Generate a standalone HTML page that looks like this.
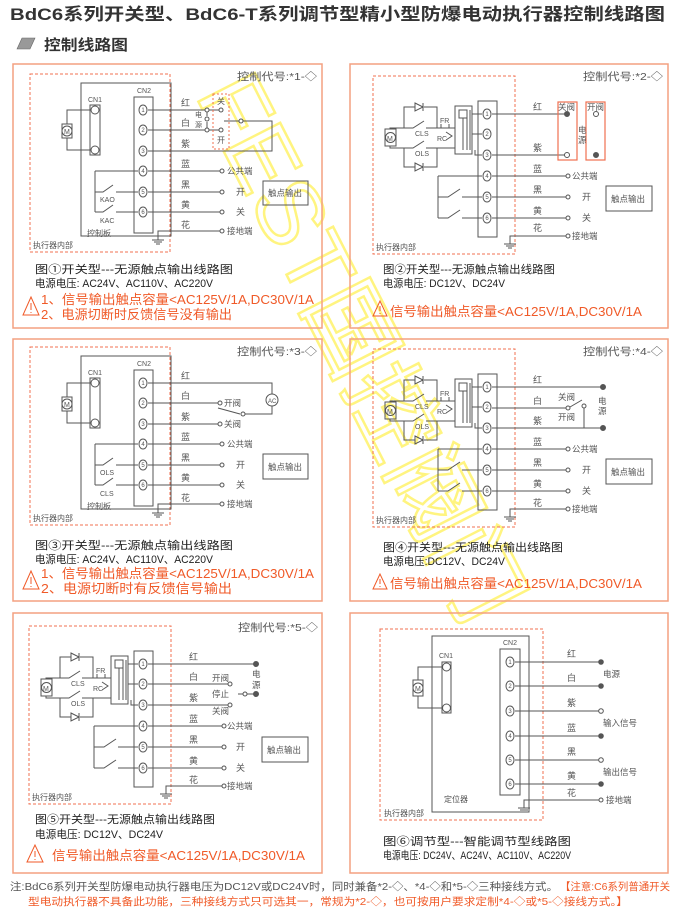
<!DOCTYPE html>
<html><head><meta charset="utf-8"><style>
html,body{margin:0;padding:0;background:#fff;}
svg{display:block;}
text{font-family:"Liberation Sans","Noto Sans CJK SC",sans-serif;}
</style></head><body>
<svg width="680" height="922" viewBox="0 0 680 922" xmlns="http://www.w3.org/2000/svg">
<defs>
<g id="gA" fill="none" stroke="#555" stroke-width="1">
<rect x="30" y="74" width="140" height="178" stroke="#f07050" stroke-dasharray="3 2"/>
<rect x="81" y="83" width="90" height="153"/>
<rect x="90" y="105" width="10" height="50"/>
<circle cx="95" cy="110" r="4"/><circle cx="95" cy="150" r="4"/>
<path d="M90 110H67V124M90 150H67V138"/>
<rect x="62" y="124" width="10" height="14"/><circle cx="67" cy="131" r="5"/>
<rect x="134" y="97" width="19" height="136"/>
<ellipse cx="143" cy="110" rx="4" ry="5"/><ellipse cx="143" cy="130" rx="4" ry="5"/><ellipse cx="143" cy="151" rx="4" ry="5"/><ellipse cx="143" cy="171" rx="4" ry="5"/><ellipse cx="143" cy="192" rx="4" ry="5"/><ellipse cx="143" cy="212" rx="4" ry="5"/>
<path d="M148 171H220M95 171V212M95 171H138M95 192H103L113 185M116 192H138M95 212H103L113 205M116 212H138M148 192H220M148 212H220M220 231H158V240M152 240H164M154 242H162M156 244H160"/>
<g fill="#fff"><circle cx="222" cy="171" r="2"/><circle cx="222" cy="192" r="2"/><circle cx="222" cy="212" r="2"/><circle cx="222" cy="231" r="2"/></g>
</g>
<g id="gB" fill="none" stroke="#555" stroke-width="1">
<rect x="373" y="76" width="142" height="178" stroke="#f07050" stroke-dasharray="3 2"/>
<rect x="478" y="101" width="19" height="136"/>
<ellipse cx="487" cy="114" rx="4" ry="5"/><ellipse cx="487" cy="134" rx="4" ry="5"/><ellipse cx="487" cy="155" rx="4" ry="5"/><ellipse cx="487" cy="176" rx="4" ry="5"/><ellipse cx="487" cy="197" rx="4" ry="5"/><ellipse cx="487" cy="218" rx="4" ry="5"/>
<rect x="385" y="129" width="11" height="17"/><circle cx="390.5" cy="137.5" r="5"/>
<path d="M404 128V107H415M424 107H437V128M404 148V167H415M424 167H437V148"/>
<path d="M415 103L423 107L415 111ZM423 103V111M415 163L423 167L415 171ZM423 163V171"/>
<path d="M390 129V128H413L424 121M426 128H455M390 146V148H413L424 141M426 148H455"/>
<path d="M446 132L452 136L446 140M441 128V124M449 124V128"/>
<rect x="455" y="106" width="17" height="48"/><rect x="459" y="110" width="8" height="8"/>
<path d="M463 118V150M467 118V150M470 110V150M472 114H482M472 134H482M475 150V155H482"/>
<path d="M438 176H482M438 176V218M438 197H448L460 189M462 197H482M438 218H448L460 210M462 218H482"/>
<path d="M492 176H566M492 197H566M492 218H566M566 236H510V244M504 244H516M506 246H514M508 248H512"/>
<g fill="#fff"><circle cx="568" cy="176" r="2"/><circle cx="568" cy="197" r="2"/><circle cx="568" cy="218" r="2"/><circle cx="568" cy="236" r="2"/></g>
</g>
</defs>

<!-- watermark -->
<text x="0" y="0" transform="translate(195,95) rotate(63)" font-size="92" fill="none" stroke="#fff36a" stroke-width="2.5" opacity="0.85" textLength="600" lengthAdjust="spacingAndGlyphs">FEST国控阀门</text>

<!-- header -->
<text x="10" y="20" font-size="17" font-weight="bold" fill="#333" textLength="655" lengthAdjust="spacingAndGlyphs">BdC6系列开关型、BdC6-T系列调节型精小型防爆电动执行器控制线路图</text>
<path d="M17 49L22 38H35L30 49Z" fill="#999" stroke="#666" stroke-width=".6"/>
<text x="44" y="50" font-size="15" font-weight="bold" fill="#333" textLength="84" lengthAdjust="spacingAndGlyphs">控制线路图</text>

<!-- panel borders -->
<g fill="none" stroke="#f4a080" stroke-width="1.5">
<rect x="13" y="64" width="309" height="264"/>
<rect x="350" y="64" width="318" height="264"/>
<rect x="13" y="339" width="309" height="262"/>
<rect x="350" y="339" width="318" height="262"/>
<rect x="13" y="613" width="309" height="260"/>
<rect x="350" y="613" width="318" height="260"/>
</g>

<g font-size="9" fill="#555">
<!-- PANEL 1 -->
<use href="#gA"/>
<text x="237" y="80" font-size="10.5" textLength="80" lengthAdjust="spacingAndGlyphs">控制代号:*1-◇</text>
<text x="88" y="102" font-size="7">CN1</text><text x="137" y="93" font-size="7">CN2</text>
<text x="64" y="134" font-size="7">M</text>
<g font-size="6" text-anchor="middle"><text x="143" y="112">1</text><text x="143" y="132">2</text><text x="143" y="153">3</text><text x="143" y="173">4</text><text x="143" y="194">5</text><text x="143" y="214">6</text></g>
<text x="100" y="202" font-size="7">KAO</text><text x="100" y="223" font-size="7">KAC</text>
<text x="87" y="236" font-size="8">控制板</text><text x="33" y="248" font-size="8">执行器内部</text>
<text x="181" y="106">红</text><text x="181" y="126">白</text><text x="181" y="147">紫</text><text x="181" y="167">蓝</text><text x="181" y="188">黑</text><text x="181" y="208">黄</text><text x="181" y="228">花</text>
<text x="227" y="174" font-size="8.5">公共端</text><text x="236" y="195">开</text><text x="236" y="215">关</text><text x="227" y="234" font-size="8.5">接地端</text>
<rect x="263" y="181" width="45" height="24" fill="none" stroke="#555"/><text x="268" y="196" font-size="8.5">触点输出</text>
<g fill="none" stroke="#555"><path d="M148 110H205M148 130H205M207 112V116M207 122V128M148 151H272V121H243M224 121H239M209 110H219M209 130H219"/>
<circle cx="207" cy="110" r="2" fill="#fff"/><circle cx="207" cy="119" r="2" fill="#fff"/><circle cx="207" cy="130" r="2" fill="#fff"/><circle cx="221" cy="110" r="2" fill="#fff"/><circle cx="221" cy="130" r="2" fill="#fff"/><circle cx="241" cy="121" r="2" fill="#fff"/>
<rect x="213" y="94" width="16" height="55" stroke="#f07050" stroke-dasharray="2 2"/></g>
<text x="195" y="117" font-size="7">电</text><text x="195" y="127" font-size="7">源</text>
<text x="217" y="104" font-size="8">关</text><text x="217" y="143" font-size="8">开</text>

<!-- PANEL 3 -->
<use href="#gA" y="273"/>
<text x="237" y="355" font-size="10.5" textLength="80" lengthAdjust="spacingAndGlyphs">控制代号:*3-◇</text>
<text x="88" y="375" font-size="7">CN1</text><text x="137" y="366" font-size="7">CN2</text>
<text x="64" y="407" font-size="7">M</text>
<g font-size="6" text-anchor="middle"><text x="143" y="385">1</text><text x="143" y="405">2</text><text x="143" y="426">3</text><text x="143" y="446">4</text><text x="143" y="467">5</text><text x="143" y="487">6</text></g>
<text x="100" y="475" font-size="7">OLS</text><text x="100" y="496" font-size="7">CLS</text>
<text x="87" y="509" font-size="8">控制板</text><text x="33" y="521" font-size="8">执行器内部</text>
<text x="181" y="379">红</text><text x="181" y="399">白</text><text x="181" y="420">紫</text><text x="181" y="440">蓝</text><text x="181" y="461">黑</text><text x="181" y="481">黄</text><text x="181" y="501">花</text>
<text x="227" y="447" font-size="8.5">公共端</text><text x="236" y="468">开</text><text x="236" y="488">关</text><text x="227" y="507" font-size="8.5">接地端</text>
<rect x="263" y="454" width="45" height="25" fill="none" stroke="#555"/><text x="268" y="470" font-size="8.5">触点输出</text>
<g fill="none" stroke="#555"><path d="M148 383H272V394M272 406V414H245M148 403H218M148 424H218M218 408L240 414"/>
<circle cx="272" cy="400" r="6" fill="#fff"/><circle cx="220" cy="403" r="2" fill="#fff"/><circle cx="220" cy="424" r="2" fill="#fff"/><circle cx="243" cy="414" r="2" fill="#fff"/></g>
<text x="268" y="403" font-size="6">AC</text>
<text x="224" y="406" font-size="8.5">开阀</text><text x="224" y="427" font-size="8.5">关阀</text>

<!-- PANEL 2 -->
<use href="#gB"/>
<text x="583" y="80" font-size="10.5" textLength="80" lengthAdjust="spacingAndGlyphs">控制代号:*2-◇</text>
<text x="387" y="141" font-size="7">M</text>
<g font-size="6" text-anchor="middle"><text x="487" y="116">1</text><text x="487" y="136">2</text><text x="487" y="157">3</text><text x="487" y="178">4</text><text x="487" y="199">5</text><text x="487" y="220">6</text></g>
<text x="415" y="136" font-size="7">CLS</text><text x="415" y="156" font-size="7">OLS</text><text x="440" y="123" font-size="7">FR</text><text x="437" y="141" font-size="7">RC</text>
<text x="376" y="250" font-size="8">执行器内部</text>
<text x="533" y="110">红</text><text x="533" y="151">紫</text><text x="533" y="172">蓝</text><text x="533" y="193">黑</text><text x="533" y="214">黄</text><text x="533" y="231">花</text>
<text x="572" y="179" font-size="8.5">公共端</text><text x="582" y="200">开</text><text x="582" y="221">关</text><text x="572" y="239" font-size="8.5">接地端</text>
<rect x="606" y="186" width="46" height="25" fill="none" stroke="#555"/><text x="611" y="202" font-size="8.5">触点输出</text>
<g fill="none"><path d="M492 114H565M492 155H565" stroke="#555"/>
<rect x="558" y="102" width="19" height="58" stroke="#f07050" stroke-width="1.2"/><rect x="586" y="102" width="19" height="58" stroke="#f07050" stroke-width="1.2"/>
<circle cx="567" cy="114" r="2.5" stroke="#555" fill="#555"/><circle cx="567" cy="155" r="2.5" stroke="#555"/><circle cx="596" cy="114" r="2.5" stroke="#555"/><circle cx="596" cy="155" r="2.5" stroke="#555" fill="#555"/></g>
<text x="558" y="110" font-size="8.5">关阀</text><text x="587" y="110" font-size="8.5">开阀</text>
<text x="578" y="133" font-size="8.5">电</text><text x="578" y="143" font-size="8.5">源</text>

<!-- PANEL 4 -->
<use href="#gB" y="273"/>
<text x="583" y="355" font-size="10.5" textLength="80" lengthAdjust="spacingAndGlyphs">控制代号:*4-◇</text>
<text x="387" y="414" font-size="7">M</text>
<g font-size="6" text-anchor="middle"><text x="487" y="389">1</text><text x="487" y="409">2</text><text x="487" y="430">3</text><text x="487" y="451">4</text><text x="487" y="472">5</text><text x="487" y="493">6</text></g>
<text x="415" y="409" font-size="7">CLS</text><text x="415" y="429" font-size="7">OLS</text><text x="440" y="396" font-size="7">FR</text><text x="437" y="414" font-size="7">RC</text>
<text x="376" y="523" font-size="8">执行器内部</text>
<text x="533" y="383">红</text><text x="533" y="404">白</text><text x="533" y="424">紫</text><text x="533" y="445">蓝</text><text x="533" y="466">黑</text><text x="533" y="487">黄</text><text x="533" y="506">花</text>
<text x="572" y="452" font-size="8.5">公共端</text><text x="582" y="473">开</text><text x="582" y="494">关</text><text x="572" y="512" font-size="8.5">接地端</text>
<rect x="606" y="459" width="46" height="25" fill="none" stroke="#555"/><text x="611" y="475" font-size="8.5">触点输出</text>
<g fill="none" stroke="#555"><path d="M492 387H601M492 408H566M492 428H601M570 407L582 400M584 408V428"/>
<circle cx="568" cy="408" r="2" fill="#fff"/><circle cx="584" cy="406" r="2" fill="#fff"/>
<circle cx="603" cy="387" r="2.5" fill="#555"/><circle cx="603" cy="428" r="2.5" fill="#555"/></g>
<text x="558" y="400" font-size="8.5">关阀</text><text x="558" y="420" font-size="8.5">开阀</text>
<text x="598" y="404" font-size="8.5">电</text><text x="598" y="414" font-size="8.5">源</text>

<!-- PANEL 5 -->
<use href="#gB" x="-344" y="550"/>
<text x="238" y="631" font-size="10.5" textLength="80" lengthAdjust="spacingAndGlyphs">控制代号:*5-◇</text>
<text x="43" y="691" font-size="7">M</text>
<g font-size="6" text-anchor="middle"><text x="143" y="666">1</text><text x="143" y="686">2</text><text x="143" y="707">3</text><text x="143" y="728">4</text><text x="143" y="749">5</text><text x="143" y="770">6</text></g>
<text x="71" y="686" font-size="7">CLS</text><text x="71" y="706" font-size="7">OLS</text><text x="96" y="673" font-size="7">FR</text><text x="93" y="691" font-size="7">RC</text>
<text x="32" y="800" font-size="8">执行器内部</text>
<text x="189" y="660">红</text><text x="189" y="680">白</text><text x="189" y="701">紫</text><text x="189" y="722">蓝</text><text x="189" y="743">黑</text><text x="189" y="764">黄</text><text x="189" y="783">花</text>
<text x="227" y="729" font-size="8.5">公共端</text><text x="236" y="750">开</text><text x="236" y="771">关</text><text x="227" y="789" font-size="8.5">接地端</text>
<rect x="262" y="737" width="46" height="25" fill="none" stroke="#555"/><text x="267" y="753" font-size="8.5">触点输出</text>
<g fill="none" stroke="#555"><path d="M148 664H254M148 684H228M148 705H228M238 694H254"/>
<circle cx="230" cy="684" r="2" fill="#fff"/><circle cx="230" cy="705" r="2" fill="#fff"/><circle cx="245" cy="694" r="2" fill="#fff"/>
<circle cx="256" cy="664" r="2.5" fill="#555"/><circle cx="256" cy="694" r="2.5" fill="#555"/></g>
<text x="212" y="681" font-size="8.5">开阀</text><text x="212" y="697" font-size="8.5">停止</text><text x="212" y="714" font-size="8.5">关阀</text>
<text x="252" y="677" font-size="8.5">电</text><text x="252" y="688" font-size="8.5">源</text>

<!-- PANEL 6 -->
<g fill="none" stroke="#555">
<rect x="380" y="629" width="163" height="191" stroke="#f07050" stroke-dasharray="3 2"/>
<rect x="432" y="636" width="97" height="176"/>
<rect x="442" y="662" width="9" height="51"/>
<circle cx="446.5" cy="667" r="4"/><circle cx="446.5" cy="708" r="4"/>
<path d="M442 667H418V680M442 708H418V696"/>
<rect x="413" y="680" width="10" height="16"/><circle cx="418" cy="688" r="5"/>
<rect x="500" y="649" width="20" height="146"/>
<ellipse cx="510" cy="662" rx="4" ry="5"/><ellipse cx="510" cy="686" rx="4" ry="5"/><ellipse cx="510" cy="711" rx="4" ry="5"/><ellipse cx="510" cy="736" rx="4" ry="5"/><ellipse cx="510" cy="760" rx="4" ry="5"/><ellipse cx="510" cy="784" rx="4" ry="5"/>
<path d="M515 662H599M515 686H599M515 711H599M515 736H599M515 760H599M515 784H599M599 800H524V808M518 808H530M520 810H528M522 812H526"/>
<circle cx="601" cy="662" r="2.3" fill="#555"/><circle cx="601" cy="686" r="2.3" fill="#555"/><circle cx="601" cy="711" r="2.3" fill="#fff"/><circle cx="601" cy="736" r="2.3" fill="#555"/><circle cx="601" cy="760" r="2.3" fill="#fff"/><circle cx="601" cy="784" r="2.3" fill="#555"/><circle cx="601" cy="800" r="2" fill="#fff"/>
</g>
<text x="439" y="658" font-size="7">CN1</text><text x="503" y="645" font-size="7">CN2</text>
<text x="415" y="691" font-size="7">M</text>
<g font-size="6" text-anchor="middle"><text x="510" y="664">1</text><text x="510" y="688">2</text><text x="510" y="713">3</text><text x="510" y="738">4</text><text x="510" y="762">5</text><text x="510" y="786">6</text></g>
<text x="444" y="802" font-size="8">定位器</text><text x="384" y="816" font-size="8">执行器内部</text>
<text x="567" y="657">红</text><text x="567" y="681">白</text><text x="567" y="706">紫</text><text x="567" y="731">蓝</text><text x="567" y="755">黑</text><text x="567" y="779">黄</text><text x="567" y="796">花</text>
<text x="603" y="677" font-size="8.5">电源</text><text x="603" y="726" font-size="8.5">输入信号</text><text x="603" y="775" font-size="8.5">输出信号</text><text x="606" y="803" font-size="8.5">接地端</text>
</g>

<!-- captions -->
<g font-size="11" fill="#222">
<text x="35" y="273" textLength="198" lengthAdjust="spacingAndGlyphs">图①开关型---无源触点输出线路图</text>
<text x="35" y="287" textLength="178" lengthAdjust="spacingAndGlyphs">电源电压: AC24V、AC110V、AC220V</text>
<text x="383" y="273" textLength="172" lengthAdjust="spacingAndGlyphs">图②开关型---无源触点输出线路图</text>
<text x="383" y="287" textLength="122" lengthAdjust="spacingAndGlyphs">电源电压: DC12V、DC24V</text>
<text x="35" y="549" textLength="198" lengthAdjust="spacingAndGlyphs">图③开关型---无源触点输出线路图</text>
<text x="35" y="563" textLength="178" lengthAdjust="spacingAndGlyphs">电源电压: AC24V、AC110V、AC220V</text>
<text x="383" y="551" textLength="180" lengthAdjust="spacingAndGlyphs">图④开关型---无源触点输出线路图</text>
<text x="383" y="565" textLength="122" lengthAdjust="spacingAndGlyphs">电源电压:DC12V、DC24V</text>
<text x="35" y="823" textLength="180" lengthAdjust="spacingAndGlyphs">图⑤开关型---无源触点输出线路图</text>
<text x="35" y="838" textLength="128" lengthAdjust="spacingAndGlyphs">电源电压: DC12V、DC24V</text>
<text x="383" y="845" textLength="188" lengthAdjust="spacingAndGlyphs">图⑥调节型---智能调节型线路图</text>
<text x="383" y="859" textLength="188" lengthAdjust="spacingAndGlyphs">电源电压: DC24V、AC24V、AC110V、AC220V</text>
</g>
<g font-size="13" fill="#f05a28">
<text x="41" y="304" textLength="273" lengthAdjust="spacingAndGlyphs">1、信号输出触点容量&lt;AC125V/1A,DC30V/1A</text>
<text x="41" y="319" textLength="191" lengthAdjust="spacingAndGlyphs">2、电源切断时反馈信号没有输出</text>
<text x="390" y="316" textLength="252" lengthAdjust="spacingAndGlyphs">信号输出触点容量&lt;AC125V/1A,DC30V/1A</text>
<text x="41" y="578" textLength="273" lengthAdjust="spacingAndGlyphs">1、信号输出触点容量&lt;AC125V/1A,DC30V/1A</text>
<text x="41" y="593" textLength="191" lengthAdjust="spacingAndGlyphs">2、电源切断时有反馈信号输出</text>
<text x="390" y="588" textLength="252" lengthAdjust="spacingAndGlyphs">信号输出触点容量&lt;AC125V/1A,DC30V/1A</text>
<text x="52" y="860" textLength="253" lengthAdjust="spacingAndGlyphs">信号输出触点容量&lt;AC125V/1A,DC30V/1A</text>
</g>
<g fill="none" stroke="#f05a28" stroke-width="1">
<path d="M31 297L23 315H39Z"/><path d="M31 303V310M31 312V313"/>
<path d="M380 301L373 316H387Z"/><path d="M380 306V311M380 313V314"/>
<path d="M31 571L23 589H39Z"/><path d="M31 577V584M31 586V587"/>
<path d="M380 574L373 589H387Z"/><path d="M380 579V584M380 586V587"/>
<path d="M35 845L27 862H43Z"/><path d="M35 851V857M35 859V860"/>
</g>

<!-- bottom note -->
<text x="10" y="890" font-size="10.5" fill="#555" textLength="548" lengthAdjust="spacingAndGlyphs">注:BdC6系列开关型防爆电动执行器电压为DC12V或DC24V时，同时兼备*2-◇、*4-◇和*5-◇三种接线方式。</text>
<text x="560" y="890" font-size="10.5" fill="#f05a28" textLength="110" lengthAdjust="spacingAndGlyphs">【注意:C6系列普通开关</text>
<text x="28" y="905" font-size="10.5" fill="#f05a28" textLength="600" lengthAdjust="spacingAndGlyphs">型电动执行器不具备此功能，三种接线方式只可选其一，常规为*2-◇，也可按用户要求定制*4-◇或*5-◇接线方式。】</text>
</svg>
</body></html>
